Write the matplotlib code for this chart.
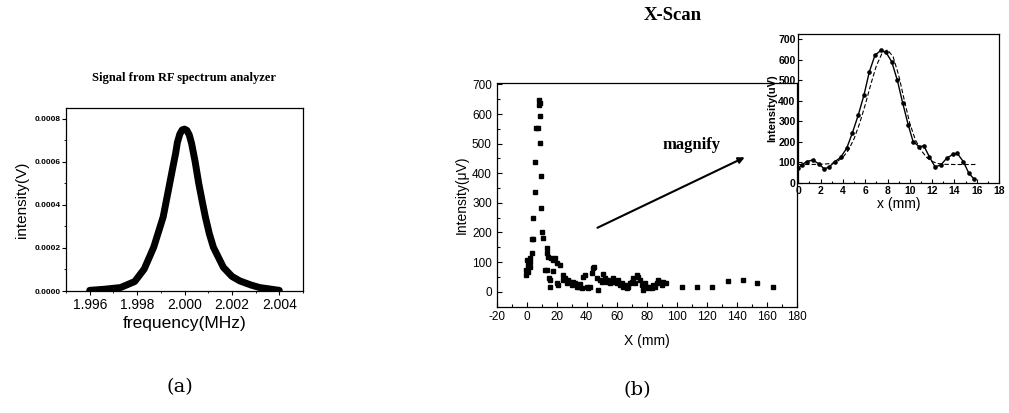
import matplotlib
matplotlib.use("Agg")
import matplotlib.pyplot as plt
from matplotlib.ticker import MultipleLocator

plt.rcParams['font.family'] = ['Liberation Sans', 'DejaVu Sans']
plt.rcParams['axes.linewidth'] = 0.9
plt.rcParams['axes.unicode_minus'] = False

# (a) RF spectrum analyzer signal
freq = [1.9960, 1.9966, 1.9973, 1.9979, 1.9983, 1.9987, 1.9991, 1.99935, 1.9995,
        1.99963, 1.9997, 1.9998, 1.9999, 2.0000, 2.0001, 2.0002, 2.0003, 2.00045,
        2.0006, 2.00075, 2.00088, 2.00105, 2.00122, 2.00164, 2.0020, 2.00233,
        2.0028, 2.00317, 2.0040]
signal = [0.000003, 0.000008, 0.000016, 0.000044, 0.000102, 0.000203, 0.000344,
          0.000485, 0.000570, 0.000642, 0.000690, 0.000728, 0.000748, 0.000752,
          0.000746, 0.000725, 0.000685, 0.000600, 0.000500, 0.000415, 0.000344,
          0.000265, 0.000203, 0.000110, 0.000068, 0.000047, 0.000028, 0.000016,
          0.000003]

# (b) X-scan, scatter points
scan_x = [8.9, 8.4, 8.2, 8.9, 6.0, 7.3, 8.9, 5.3, 9.3, 5.3, 9.8, 4.4, 10.2, 3.3, 4.4,
          11.1, 3.3, 2.2, 0.4, 1.1, -0.4, 1.1, -0.4, 2.2, 2.2, 13.3, 15.6,
          13.3, 13.3, 14.4, 16.0, 17.3, 18.9, 20.0, 22.2, 12.2, 15.1, 15.6, 17.3, 20.0,
          21.1, 24.0, 24.4, 25.6, 26.7, 27.8, 28.9, 30.0, 31.1, 32.2, 33.3, 34.9, 35.6,
          36.7, 37.8, 38.9, 40.0, 41.1, 42.2, 43.3, 44.4, 45.1, 47.8, 46.7, 48.9, 50.0,
          51.1, 52.2, 53.3, 54.4, 55.6, 56.7, 57.8, 58.9, 60.0, 61.1, 62.2, 63.3, 64.4,
          65.6, 66.7, 67.8, 68.9, 70.0, 71.1, 72.2, 73.3, 74.4, 75.6, 76.7, 77.8, 78.9,
          80.0, 81.1, 82.2, 83.3, 84.4, 85.6, 86.7, 87.8, 88.9, 90.0, 91.1, 92.9,
          103.3, 113.8, 123.8, 134.0, 144.0, 153.8, 164.0]
scan_y = [638, 631, 647, 593, 552, 552, 501, 439, 391, 338, 282, 250, 203, 178, 178,
          180, 130, 113, 107, 90, 73, 68, 56, 101, 84, 73, 39,
          149, 130, 118, 113, 107, 113, 96, 90, 73, 45, 17, 71, 28,
          23, 56, 39, 45, 28, 39, 34, 23, 34, 28, 17, 17, 25,
          11, 51, 56, 17, 11, 17, 64, 79, 84, 6, 45, 39, 34,
          60, 45, 34, 39, 28, 34, 45, 34, 28, 39, 23, 28, 17,
          23, 14, 17, 28, 34, 45, 28, 56, 51, 39, 23, 6, 28,
          17, 11, 17, 11, 23, 17, 28, 39, 34, 23, 34, 30,
          15, 15, 17, 35, 39, 30, 15]

# (b) inset: magnified scan and fit
zoom_x = [0.0, 0.3, 0.75, 1.29, 1.88, 2.33, 2.78, 3.29, 3.8, 4.34, 4.84, 5.38, 5.89,
          6.37, 6.88, 7.4, 7.84, 8.38, 8.88, 9.36, 9.87, 10.3, 10.85, 11.27, 11.75,
          12.26, 12.77, 13.3, 13.85, 14.26, 14.8, 15.3, 15.79]
zoom_y = [72, 88, 104, 112, 92, 68, 79, 104, 125, 169, 242, 331, 428, 541, 622, 645,
          638, 590, 500, 390, 280, 201, 177, 180, 128, 79, 87, 120, 139, 144, 104, 47, 18]
fit_x = [0, 1, 2, 3, 3.5, 4, 4.5, 5, 5.5, 6, 6.5, 7, 7.5, 8, 8.5, 9, 9.5, 10, 10.5,
         11, 11.5, 12, 12.5, 13, 14, 15, 16]
fit_y = [90, 90, 91, 95, 105, 125, 160, 215, 290, 380, 480, 570, 630, 648, 615, 525,
         405, 290, 210, 160, 125, 105, 95, 91, 90, 90, 90]

W, H = 1009, 413
fig = plt.figure(figsize=(W / 100, H / 100), dpi=100)


def rect(left, top, right, bottom):
    return [left / W, 1 - bottom / H, (right - left) / W, (bottom - top) / H]


# ---- panel (a)
ax1 = fig.add_axes(rect(66, 108, 303, 291))
ax1.plot(freq, signal, color='black', linewidth=5, solid_joinstyle='round',
         solid_capstyle='round')
ax1.set_xlim(1.995, 2.005)
ax1.set_ylim(0, 0.00085)
ax1.set_xticks([1.996, 1.998, 2.000, 2.002, 2.004])
ax1.set_xticklabels(['1.996', '1.998', '2.000', '2.002', '2.004'])
ax1.set_yticks([0, 0.0002, 0.0004, 0.0006, 0.0008])
ax1.set_yticklabels(['0.0000', '0.0002', '0.0004', '0.0006', '0.0008'])
ax1.xaxis.set_minor_locator(MultipleLocator(0.001))
ax1.yaxis.set_minor_locator(MultipleLocator(0.0001))
ax1.tick_params(axis='x', labelsize=10, length=3, width=0.8, pad=2)
ax1.tick_params(axis='y', labelsize=6, length=3, width=0.8, pad=1)
ax1.tick_params(which='minor', length=1.5, width=0.6)
for lab in ax1.get_yticklabels():
    lab.set_fontweight('bold')
ax1.set_xlabel('frequency(MHz)', fontsize=12.5, labelpad=3)
ax1.set_ylabel('intensity(V)', fontsize=11, labelpad=4)
fig.text(184 / W, 1 - 78 / H, 'Signal from RF spectrum analyzer',
         family='Liberation Serif', fontweight='bold', fontsize=9,
         ha='center', va='center')

# ---- panel (b), main scan
ax2 = fig.add_axes(rect(496.7, 83, 796.7, 306.5))
ax2.plot(scan_x, scan_y, 's', color='black', markersize=3.3)
ax2.set_xlim(-20, 180)
ax2.set_ylim(-50, 705)
ax2.xaxis.set_major_locator(MultipleLocator(20))
ax2.xaxis.set_minor_locator(MultipleLocator(10))
ax2.yaxis.set_major_locator(MultipleLocator(100))
ax2.yaxis.set_minor_locator(MultipleLocator(50))
ax2.tick_params(which='both', direction='in', width=0.8)
ax2.tick_params(which='major', length=3.5, labelsize=8.5)
ax2.tick_params(which='minor', length=2)
ax2.set_xlabel('X (mm)', fontsize=10, labelpad=8)
ax2.set_ylabel('Intensity(\u03bcV)', fontsize=10, labelpad=2)
ax2.annotate('', xy=(147, 458), xytext=(45.5, 212),
             arrowprops=dict(arrowstyle='-|>', color='black', lw=1.5,
                             mutation_scale=9))
ax2.text(110, 496, 'magnify', family='Liberation Serif', fontweight='bold',
         fontsize=12, ha='center', va='center')
fig.text(673 / W, 1 - 15 / H, 'X-Scan', family='Liberation Serif',
         fontweight='bold', fontsize=13.5, ha='center', va='center')

# ---- panel (b), inset
ax3 = fig.add_axes(rect(798.3, 34, 999, 183))
ax3.plot(fit_x, fit_y, color='black', linewidth=0.8, linestyle=(0, (4, 2)))
ax3.plot(zoom_x, zoom_y, '-o', color='black', linewidth=1.0, markersize=2.3)
ax3.set_xlim(0, 18)
ax3.set_ylim(0, 725)
ax3.xaxis.set_major_locator(MultipleLocator(2))
ax3.xaxis.set_minor_locator(MultipleLocator(1))
ax3.yaxis.set_major_locator(MultipleLocator(100))
ax3.tick_params(which='both', direction='in', width=0.8)
ax3.tick_params(which='major', length=3, labelsize=7.5, pad=2)
ax3.tick_params(which='minor', length=1.5)
for lab in ax3.get_xticklabels() + ax3.get_yticklabels():
    lab.set_fontweight('bold')
ax3.set_xlabel('x (mm)', fontsize=10, labelpad=1)
ax3.set_ylabel('Intensity(uV)', fontsize=8, fontweight='bold', labelpad=1)

# ---- captions
fig.text(180 / W, 1 - 387 / H, '(a)', family='DejaVu Serif', fontsize=14,
         ha='center', va='center')
fig.text(637 / W, 1 - 390 / H, '(b)', family='DejaVu Serif', fontsize=14,
         ha='center', va='center')

fig.savefig('out.png', dpi=100)
